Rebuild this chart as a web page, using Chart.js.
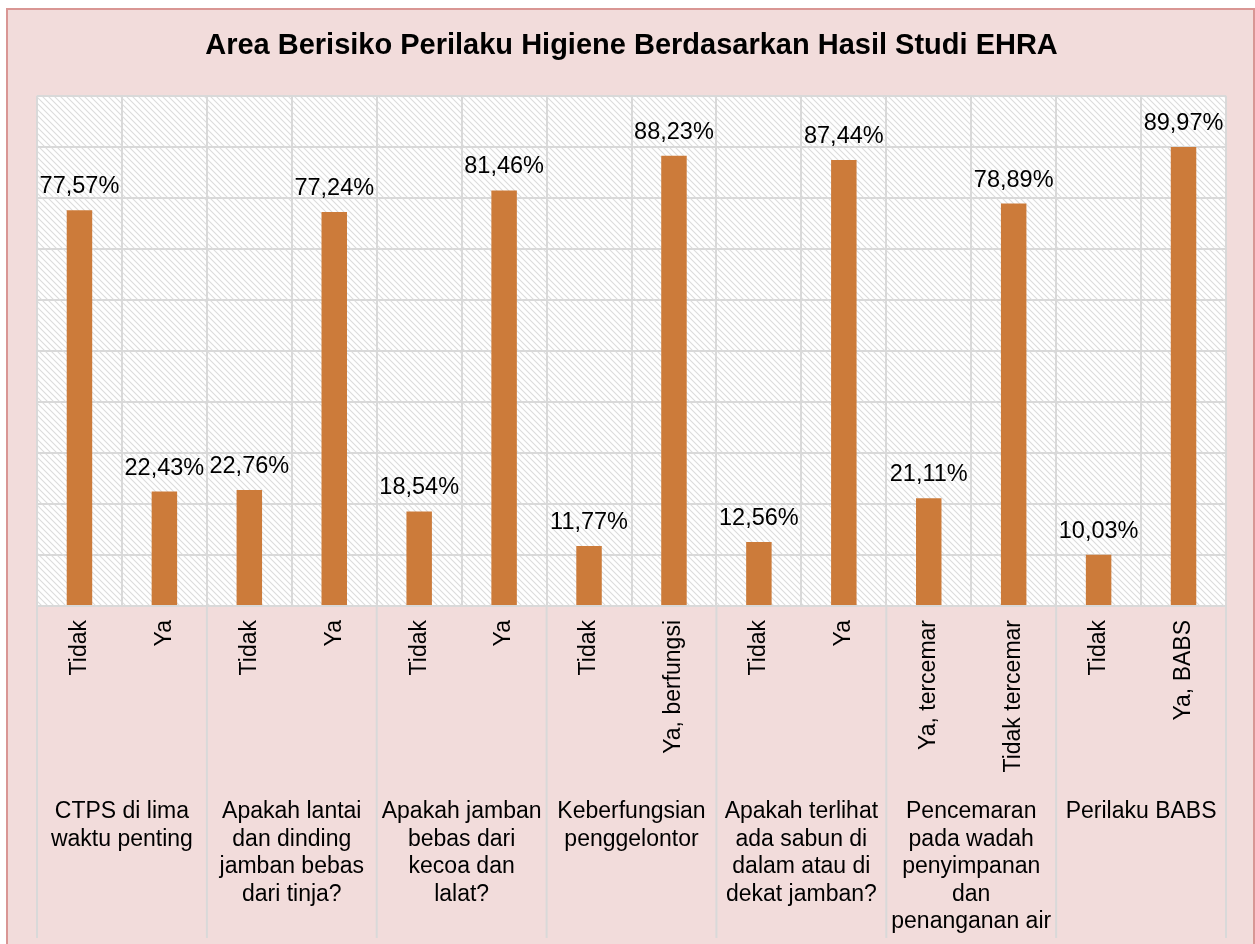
<!DOCTYPE html>
<html>
<head>
<meta charset="utf-8">
<script src="https://cdn.jsdelivr.net/npm/chart.js@4"></script>
<style>
  body { margin: 0; background: #fff; }
  #frame {
    position: absolute; left: 6px; top: 8px; width: 1245px; height: 950px;
    background: #f2dcdb; border: 2px solid #d99694;
  }
  #chart { position: absolute; left: 0; top: 0; }
</style>
</head>
<body>
<div id="frame"></div>
<canvas id="chart" width="1255" height="944"></canvas>
<script>
// answers for each question (tick labels)
const categories = [
  'Tidak', 'Ya',
  'Tidak', 'Ya',
  'Tidak', 'Ya',
  'Tidak', 'Ya, berfungsi',
  'Tidak', 'Ya',
  'Ya, tercemar', 'Tidak tercemar',
  'Tidak', 'Ya, BABS',
];
// percentages
const values = [
  77.57, 22.43,
  22.76, 77.24,
  18.54, 81.46,
  11.77, 88.23,
  12.56, 87.44,
  21.11, 78.89,
  10.03, 89.97,
];
// second level labels, one per pair of bars
const groupLabels = [
  ['CTPS di lima', 'waktu penting'],
  ['Apakah lantai', 'dan dinding', 'jamban bebas', 'dari tinja?'],
  ['Apakah jamban', 'bebas dari', 'kecoa dan', 'lalat?'],
  ['Keberfungsian', 'penggelontor'],
  ['Apakah terlihat', 'ada sabun di', 'dalam atau di', 'dekat jamban?'],
  ['Pencemaran', 'pada wadah', 'penyimpanan', 'dan', 'penanganan air'],
  ['Perilaku BABS'],
];
const yTicks = [0, 10, 20, 30, 40, 50, 60, 70, 80, 90, 100];

const FONT = "'Liberation Sans', Arial, sans-serif";
const GRID = '#d9d9d9';

// hatched plot background
function makeHatch() {
  const pc = document.createElement('canvas');
  pc.width = 6;
  pc.height = 6;
  const c = pc.getContext('2d');
  c.fillStyle = '#ffffff';
  c.fillRect(0, 0, 6, 6);
  c.strokeStyle = '#dcdcdc';
  c.lineWidth = 1.1;
  c.beginPath();
  c.moveTo(0, 0); c.lineTo(6, 6);
  c.moveTo(-1, 5); c.lineTo(1, 7);
  c.moveTo(5, -1); c.lineTo(7, 1);
  c.stroke();
  return c.createPattern(pc, 'repeat');
}

const plotBackground = {
  id: 'plotBackground',
  beforeDraw(chart) {
    const {ctx, chartArea: a} = chart;
    ctx.save();
    ctx.fillStyle = makeHatch();
    ctx.fillRect(a.left, a.top, a.right - a.left, a.bottom - a.top);
    ctx.restore();
  },
};

// percent text above each bar
const valueLabels = {
  id: 'valueLabels',
  afterDatasetsDraw(chart) {
    const ctx = chart.ctx;
    const meta = chart.getDatasetMeta(0);
    ctx.save();
    ctx.font = '23.5px ' + FONT;
    ctx.fillStyle = '#000';
    ctx.textAlign = 'center';
    ctx.textBaseline = 'alphabetic';
    meta.data.forEach((bar, i) => {
      const txt = values[i].toFixed(2).replace('.', ',') + '%';
      ctx.fillText(txt, bar.x, bar.y - 17);
    });
    ctx.restore();
  },
};

// group separators and group labels under the rotated ticks
const groupAxis = {
  id: 'groupAxis',
  afterDraw(chart) {
    const ctx = chart.ctx;
    const x = chart.scales.x;
    const a = chart.chartArea;
    const step = x.getPixelForValue(1) - x.getPixelForValue(0);
    ctx.save();
    ctx.strokeStyle = GRID;
    ctx.lineWidth = 2;
    for (let g = 0; g <= groupLabels.length; g++) {
      const px = x.getPixelForValue(g * 2) - step / 2;
      ctx.beginPath();
      ctx.moveTo(px, a.bottom);
      ctx.lineTo(px, x.bottom);
      ctx.stroke();
    }
    ctx.font = '23px ' + FONT;
    ctx.fillStyle = '#000';
    ctx.textAlign = 'center';
    ctx.textBaseline = 'middle';
    groupLabels.forEach((lines, g) => {
      const cx = (x.getPixelForValue(g * 2) + x.getPixelForValue(g * 2 + 1)) / 2;
      lines.forEach((t, k) => {
        ctx.fillText(t, cx, a.bottom + 206 + k * 27.5);
      });
    });
    ctx.restore();
  },
};

new Chart(document.getElementById('chart'), {
  type: 'bar',
  data: {
    labels: categories,
    datasets: [{
      data: values,
      backgroundColor: '#cc7b3a',
      barPercentage: 0.3,
      categoryPercentage: 1,
    }],
  },
  options: {
    responsive: false,
    animation: false,
    layout: {padding: {left: 37, right: 29, top: 0, bottom: 6}},
    plugins: {
      legend: {display: false},
      tooltip: {enabled: false},
      title: {
        display: true,
        text: 'Area Berisiko Perilaku Higiene Berdasarkan Hasil Studi EHRA',
        color: '#000',
        font: {family: FONT, size: 29, weight: 'bold'},
        padding: {top: 29, bottom: 32},
      },
    },
    scales: {
      x: {
        grid: {color: GRID, lineWidth: 2, offset: true, drawTicks: false},
        border: {color: GRID, width: 2},
        ticks: {
          color: '#000',
          font: {family: FONT, size: 23},
          minRotation: 90,
          maxRotation: 90,
          padding: 14,
          autoSkip: false,
        },
        afterFit(scale) {
          scale.height = 332;
        },
      },
      y: {
        min: 0,
        max: 100,
        afterBuildTicks(scale) {
          scale.ticks = yTicks.map((v) => ({value: v}));
        },
        grid: {color: GRID, lineWidth: 2, drawTicks: false},
        border: {display: false},
        ticks: {display: false},
      },
    },
  },
  plugins: [plotBackground, valueLabels, groupAxis],
});
</script>
</body>
</html>
